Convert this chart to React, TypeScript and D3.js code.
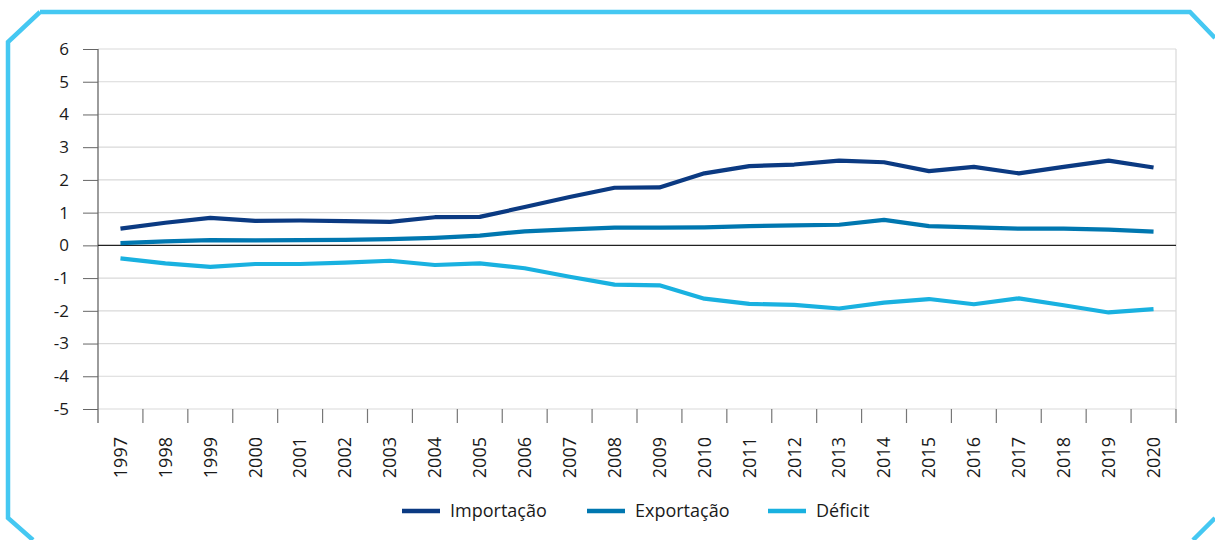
import React, { useEffect, useRef } from 'react';
import * as d3 from 'd3';

const years = ['1997', '1998', '1999', '2000', '2001', '2002', '2003', '2004', '2005', '2006', '2007', '2008',
    '2009', '2010', '2011', '2012', '2013', '2014', '2015', '2016', '2017', '2018', '2019', '2020'];

const importacao = [0.51, 0.69, 0.84, 0.75, 0.76, 0.74, 0.72, 0.86, 0.87, 1.17, 1.48, 1.76,
    1.77, 2.2, 2.42, 2.47, 2.59, 2.54, 2.27, 2.4, 2.2, 2.4, 2.59, 2.38];
const exportacao = [0.07, 0.12, 0.16, 0.15, 0.16, 0.17, 0.19, 0.23, 0.3, 0.43, 0.49, 0.54,
    0.54, 0.55, 0.59, 0.61, 0.63, 0.78, 0.59, 0.55, 0.51, 0.51, 0.48, 0.42];
const deficit = [-0.4, -0.55, -0.66, -0.57, -0.57, -0.53, -0.47, -0.6, -0.55, -0.7, -0.96, -1.2,
    -1.22, -1.63, -1.79, -1.82, -1.93, -1.75, -1.64, -1.8, -1.62, -1.83, -2.05, -1.95];

const yTicks = [6, 5, 4, 3, 2, 1, 0, -1, -2, -3, -4, -5];

const series = [
    { name: 'Importação', values: importacao, color: '#0b3a82' },
    { name: 'Exportação', values: exportacao, color: '#0077b0' },
    { name: 'Déficit', values: deficit, color: '#19b1e0' },
];

const W = 1215;
const H = 540;
const FONT = "'Open Sans', 'Noto Sans', sans-serif";

const App = () => {
    const svgRef = useRef<SVGSVGElement>(null);

    useEffect(() => {
        if (!svgRef.current) return;
        const svg = d3.select(svgRef.current);
        svg.selectAll('*').remove();

        const margin = { top: 49, right: 39, bottom: 131, left: 98 };
        const innerWidth = W - margin.left - margin.right;
        const innerHeight = H - margin.top - margin.bottom;

        // frame with cut corners
        svg.append('path')
            .attr('d', 'M40,12 L1190,12 L1215,38 M1215,518 L1193,540 M33,540 L8,518 L8,42 L40,12')
            .attr('fill', 'none')
            .attr('stroke', '#45c8f2')
            .attr('stroke-width', 4.5);

        const g = svg.append('g')
            .attr('transform', `translate(${margin.left},${margin.top})`);

        const x = d3.scaleBand().domain(years).range([0, innerWidth]);
        const y = d3.scaleLinear().domain([-5, 6]).range([innerHeight, 0]);

        // grid
        g.selectAll('line.grid')
            .data(yTicks.filter(t => t !== 0))
            .join('line')
            .attr('class', 'grid')
            .attr('x1', 0)
            .attr('x2', innerWidth)
            .attr('y1', d => y(d))
            .attr('y2', d => y(d))
            .attr('stroke', '#d9d9d9')
            .attr('stroke-width', 1.2);

        g.append('line')
            .attr('x1', innerWidth).attr('x2', innerWidth)
            .attr('y1', 0).attr('y2', innerHeight)
            .attr('stroke', '#d9d9d9')
            .attr('stroke-width', 1.2);

        // y axis
        const yAxis = g.append('g')
            .call(d3.axisLeft(y).tickValues(yTicks).tickSize(15).tickPadding(14).tickFormat(d => String(d)));
        yAxis.select('.domain').remove();
        yAxis.selectAll('.tick line').attr('stroke', '#666');
        yAxis.selectAll('.tick text')
            .attr('fill', '#1a1a1a')
            .style('font-family', FONT)
            .style('font-size', '17px');

        g.append('line')
            .attr('x1', 0).attr('x2', 0)
            .attr('y1', 0).attr('y2', innerHeight + 14)
            .attr('stroke', '#666')
            .attr('stroke-width', 1.3);

        // x ticks at band edges
        g.selectAll('line.xtick')
            .data(years)
            .join('line')
            .attr('class', 'xtick')
            .attr('x1', d => (x(d) || 0) + x.bandwidth())
            .attr('x2', d => (x(d) || 0) + x.bandwidth())
            .attr('y1', innerHeight)
            .attr('y2', innerHeight + 14)
            .attr('stroke', '#777')
            .attr('stroke-width', 1.2);

        g.selectAll('text.xlabel')
            .data(years)
            .join('text')
            .attr('class', 'xlabel')
            .attr('transform', d => `translate(${(x(d) || 0) + x.bandwidth() / 2},${innerHeight + 28}) rotate(-90)`)
            .attr('text-anchor', 'end')
            .attr('dy', '0.35em')
            .attr('fill', '#1a1a1a')
            .style('font-family', FONT)
            .style('font-size', '18px')
            .text(d => d);

        // zero line
        g.append('line')
            .attr('x1', 0).attr('x2', innerWidth)
            .attr('y1', y(0)).attr('y2', y(0))
            .attr('stroke', '#222')
            .attr('stroke-width', 1.3);

        const line = d3.line<number>()
            .x((d, i) => (x(years[i]) || 0) + x.bandwidth() / 2)
            .y(d => y(d));

        g.selectAll('path.series')
            .data(series)
            .join('path')
            .attr('class', 'series')
            .attr('d', d => line(d.values))
            .attr('fill', 'none')
            .attr('stroke', d => d.color)
            .attr('stroke-width', 4.2)
            .attr('stroke-linejoin', 'round');

        // legend
        const legendX = [402, 587, 768];
        const legend = svg.append('g')
            .selectAll('g')
            .data(series)
            .join('g')
            .attr('transform', (d, i) => `translate(${legendX[i]},511)`);

        legend.append('line')
            .attr('x1', 0).attr('x2', 38)
            .attr('stroke', d => d.color)
            .attr('stroke-width', 4.5);

        legend.append('text')
            .attr('x', 48)
            .attr('dy', '0.35em')
            .attr('fill', '#1a1a1a')
            .style('font-family', FONT)
            .style('font-size', '18px')
            .text(d => d.name);
    }, []);

    return (
        <svg ref={svgRef} width={W} height={H}
            style={{ position: 'absolute', left: 0, top: 0, display: 'block', background: '#fff' }} />
    );
};

export default App;
